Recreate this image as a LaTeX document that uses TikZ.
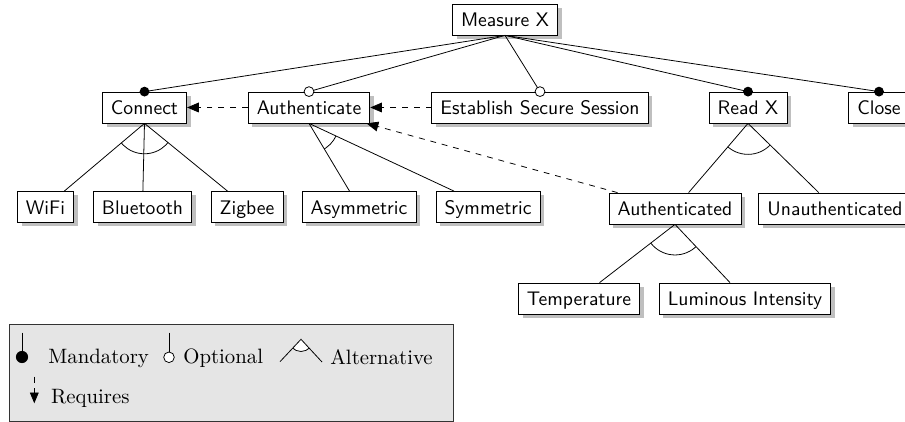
\documentclass[tikz,border=0pt]{standalone}
\usetikzlibrary{shadows,arrows.meta}
\begin{document}
\begin{tikzpicture}[x=0.51pt,y=-0.51pt,
  feat/.style={draw, fill=white, font=\sffamily, inner xsep=4.4pt, inner ysep=3.15pt,
    text height=8.5pt, text depth=1pt,
    drop shadow={shadow xshift=2.2pt, shadow yshift=-2pt, fill=black!25, opacity=1}},
  req/.style={dashed, -{Triangle[length=6pt,width=5pt]}},
  mdot/.style={fill=black},
  odot/.style={draw=black, fill=white},
  legtext/.style={anchor=base west, inner sep=0pt, font=\rmfamily\fontsize{10.6}{12}\selectfont}]
\useasboundingbox (0,0) rectangle (905,422);

% nodes
\node[feat] (mx) at (505,19.5) {Measure X};
\node[feat] (con) at (144.5,107.5) {Connect};
\node[feat] (auth) at (309,107.5) {Authenticate};
\node[feat] (ess) at (540,107.5) {Establish Secure Session};
\node[feat] (rx) at (748,107.5) {Read X};
\node[feat] (cl) at (879,107.5) {Close};
\node[feat] (wifi) at (45.5,207) {WiFi};
\node[feat] (bt) at (142.5,207) {Bluetooth};
\node[feat] (zig) at (247,207) {Zigbee};
\node[feat] (asym) at (359,207) {Asymmetric};
\node[feat] (sym) at (488,207) {Symmetric};
\node[feat] (authd) at (675,208.5) {Authenticated};
\node[feat] (unauth) at (835,208.5) {Unauthenticated};
\node[feat] (temp) at (579,298.5) {Temperature};
\node[feat] (lum) at (745,298.5) {Luminous Intensity};

% root edges
\draw (mx.south) -- (con.north);
\draw (mx.south) -- (auth.north);
\draw (mx.south) -- (ess.north);
\draw (mx.south) -- (rx.north);
\draw (mx.south) -- (cl.north);
\fill[mdot] (con.north) circle (2.5pt);
\draw[odot] (auth.north) circle (2.5pt);
\draw[odot] (ess.north) circle (2.5pt);
\fill[mdot] (rx.north) circle (2.5pt);
\fill[mdot] (cl.north) circle (2.5pt);

% alternative groups
\draw (con.south) -- (wifi);
\draw (con.south) -- (bt);
\draw (con.south) -- (zig);
\begin{scope}
  \clip (con.south) -- (wifi.center) -- (zig.center) -- cycle;
  \draw (con.south) circle (15.5pt);
\end{scope}

\draw (auth.south) -- (asym);
\draw (auth.south) -- (sym);
\begin{scope}
  \clip (auth.south) -- (asym.center) -- (sym.center) -- cycle;
  \draw (auth.south) circle (15.2pt);
\end{scope}

\draw (rx.south) -- (authd);
\draw (rx.south) -- (unauth);
\begin{scope}
  \clip (rx.south) -- (authd.center) -- (unauth.center) -- cycle;
  \draw (rx.south) circle (15.8pt);
\end{scope}

\draw (authd.south) -- (temp);
\draw (authd.south) -- (lum);
\begin{scope}
  \clip (authd.south) -- (temp.center) -- (lum.center) -- cycle;
  \draw (authd.south) circle (15.6pt);
\end{scope}

% requires
\draw[req] (auth.west) -- (con.east);
\draw[req] (ess.west) -- (auth.east);
\draw[req] (authd) -- (auth);

% legend
\draw[draw=black!80, fill=black!10] (9,324) rectangle (453,421);
\coordinate (m1) at (22,332.7);
\coordinate (m2) at (22,357);
\draw (m1) -- (m2);
\fill[mdot] (m2) circle (3.1pt);
\node[legtext] (lm) at (48,363.3) {Mandatory};
\coordinate (o1) at (169,332.7);
\coordinate (o2) at (169,357.3);
\draw (o1) -- (o2);
\draw[odot] (o2) circle (2.7pt);
\node[legtext] (lo) at (183,363.3) {Optional};
\coordinate (a1) at (280,361.7);
\coordinate (a2) at (301,339.3);
\coordinate (a3) at (322,362);
\begin{scope}
  \clip (a2) -- (a1) -- (a3) -- cycle;
  \draw[fill=white] (a2) circle (6.2pt);
\end{scope}
\draw (a1) -- (a2) -- (a3);
\node[legtext] (la) at (330,365) {Alternative};
\coordinate (r1) at (34.3,376.7);
\coordinate (r2) at (34.3,403.3);
\draw[dashed, -{Triangle[length=5.5pt,width=4.5pt]}] (r1) -- (r2);
\node[legtext] (lr) at (50.7,403.3) {Requires};
\end{tikzpicture}
\end{document}
